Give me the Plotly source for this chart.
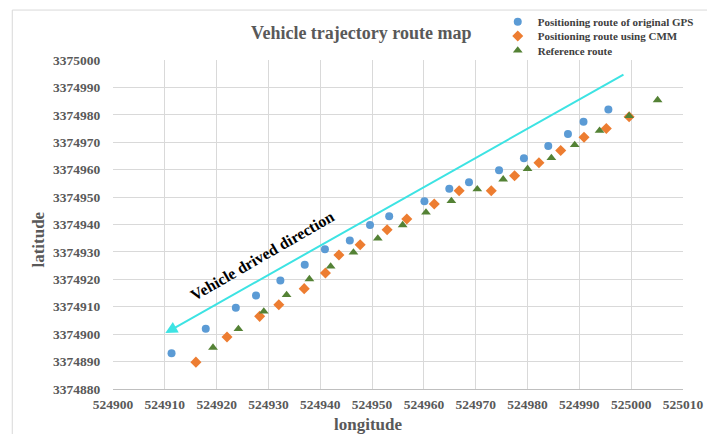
import plotly.graph_objects as go

# Positioning route of original GPS
gps_lon = [524911.3, 524917.9, 524923.7, 524927.6, 524932.3, 524937.0, 524940.9,
           524945.7, 524949.6, 524953.3, 524960.1, 524964.9, 524968.7, 524974.5,
           524979.3, 524984.0, 524987.8, 524990.8, 524995.6]
gps_lat = [3374893.0, 3374902.0, 3374909.6, 3374914.1, 3374919.6, 3374925.3, 3374931.0,
           3374934.2, 3374939.8, 3374943.0, 3374948.5, 3374953.0, 3374955.4, 3374959.8,
           3374964.2, 3374968.6, 3374973.0, 3374977.5, 3374981.9]

# Positioning route using CMM
cmm_lon = [524916.0, 524922.0, 524928.3, 524932.0, 524936.9, 524941.0, 524943.6,
           524947.7, 524952.9, 524956.7, 524962.0, 524966.8, 524973.0, 524977.5,
           524982.2, 524986.4, 524990.9, 524995.2, 524999.6]
cmm_lat = [3374889.8, 3374899.0, 3374906.5, 3374910.7, 3374916.6, 3374922.3, 3374928.9,
           3374932.6, 3374938.1, 3374942.0, 3374947.5, 3374952.3, 3374952.3, 3374957.8,
           3374962.5, 3374967.0, 3374971.8, 3374975.0, 3374979.3]

# Reference route
ref_lon = [524919.3, 524924.2, 524929.1, 524933.5, 524937.9, 524942.0, 524946.4,
           524951.1, 524955.9, 524960.4, 524965.3, 524970.3, 524975.3, 524980.0,
           524984.6, 524989.1, 524993.9, 524999.6, 525005.1]
ref_lat = [3374895.1, 3374901.9, 3374908.3, 3374914.3, 3374920.1, 3374924.7, 3374929.8,
           3374934.9, 3374939.8, 3374944.4, 3374948.6, 3374952.9, 3374956.5, 3374960.3,
           3374964.3, 3374969.0, 3374974.2, 3374979.6, 3374985.4]

# Driving-direction arrow: tail and head
arrow_tail = (524998.8, 3374995.0)
arrow_head = (524910.1, 3374900.4)

x_range = [524900, 525010]
y_range = [3374880, 3375000]

SERIF = "Liberation Serif, Times New Roman, serif"
GRAY = "#595959"
GRID = "#d9d9d9"

fig = go.Figure()
fig.add_trace(go.Scatter(
    x=gps_lon, y=gps_lat, mode="markers", name="Positioning route of original GPS",
    marker=dict(symbol="circle", size=8, color="#5b9bd5"), legend="legend"))
fig.add_trace(go.Scatter(
    x=cmm_lon, y=cmm_lat, mode="markers", name="Positioning route using CMM",
    marker=dict(symbol="diamond", size=8.5, color="#ed7d31"), legend="legend2"))
fig.add_trace(go.Scatter(
    x=ref_lon, y=ref_lat, mode="markers", name="Reference route",
    marker=dict(symbol="triangle-up", size=8.5, color="#548235"), legend="legend3"))

legend_font = dict(family=SERIF, size=11, color="#404040", weight="bold")
legend_common = dict(font=legend_font, bgcolor="rgba(0,0,0,0)", xanchor="left",
                     yanchor="middle", x=0.675, itemwidth=30)

fig.update_layout(
    width=707, height=434,
    margin=dict(l=113, r=24, t=60, b=45, autoexpand=False),
    paper_bgcolor="white", plot_bgcolor="white",
    title=dict(text="Vehicle trajectory route map", x=0.511, y=0.924,
               xanchor="center", yanchor="middle",
               font=dict(family=SERIF, size=18, color=GRAY, weight="bold")),
    showlegend=True,
    legend=dict(**legend_common, y=1.116),
    legend2=dict(**legend_common, y=1.073),
    legend3=dict(**legend_common, y=1.029),
)

tick_font = dict(family=SERIF, size=13.5, color=GRAY, weight="bold")
fig.update_xaxes(range=x_range, dtick=10, tick0=524900, tickformat="d",
                 showgrid=True, gridcolor=GRID, gridwidth=1, zeroline=False,
                 showline=True, linecolor="#bfbfbf", linewidth=1,
                 ticks="outside", ticklen=3, tickcolor="rgba(0,0,0,0)",
                 tickfont=tick_font)
fig.update_yaxes(range=y_range, dtick=10, tick0=3374880, tickformat="d",
                 showgrid=True, gridcolor=GRID, gridwidth=1, zeroline=False,
                 showline=False,
                 ticks="outside", ticklen=9, tickcolor="rgba(0,0,0,0)",
                 tickfont=tick_font)

# Direction arrow
fig.add_annotation(x=arrow_head[0], y=arrow_head[1], ax=arrow_tail[0], ay=arrow_tail[1],
                   xref="x", yref="y", axref="x", ayref="y", text="",
                   showarrow=True, arrowhead=2, arrowsize=1.2, arrowwidth=2,
                   arrowcolor="#3de3e3", standoff=0)
fig.add_annotation(x=524928.9, y=3374928.6, xref="x", yref="y",
                   text="Vehicle drived direction", showarrow=False, textangle=-30,
                   font=dict(family=SERIF, size=16, color="black", weight="bold"))

# Axis titles
fig.add_annotation(x=0.447, y=-0.108, xref="paper", yref="paper", text="longitude",
                   showarrow=False, xanchor="center", yanchor="middle",
                   font=dict(family=SERIF, size=17, color=GRAY, weight="bold"))
fig.add_annotation(x=-0.1305, y=0.453, xref="paper", yref="paper", text="latitude",
                   showarrow=False, textangle=-90, xanchor="center", yanchor="middle",
                   font=dict(family=SERIF, size=17, color=GRAY, weight="bold"))

# Chart-area border
fig.add_shape(type="rect", xref="paper", yref="paper", x0=-0.1767, y0=-0.19,
              x1=1.07, y1=1.1518, line=dict(color=GRID, width=1), layer="below")

fig.write_html("out.html")
